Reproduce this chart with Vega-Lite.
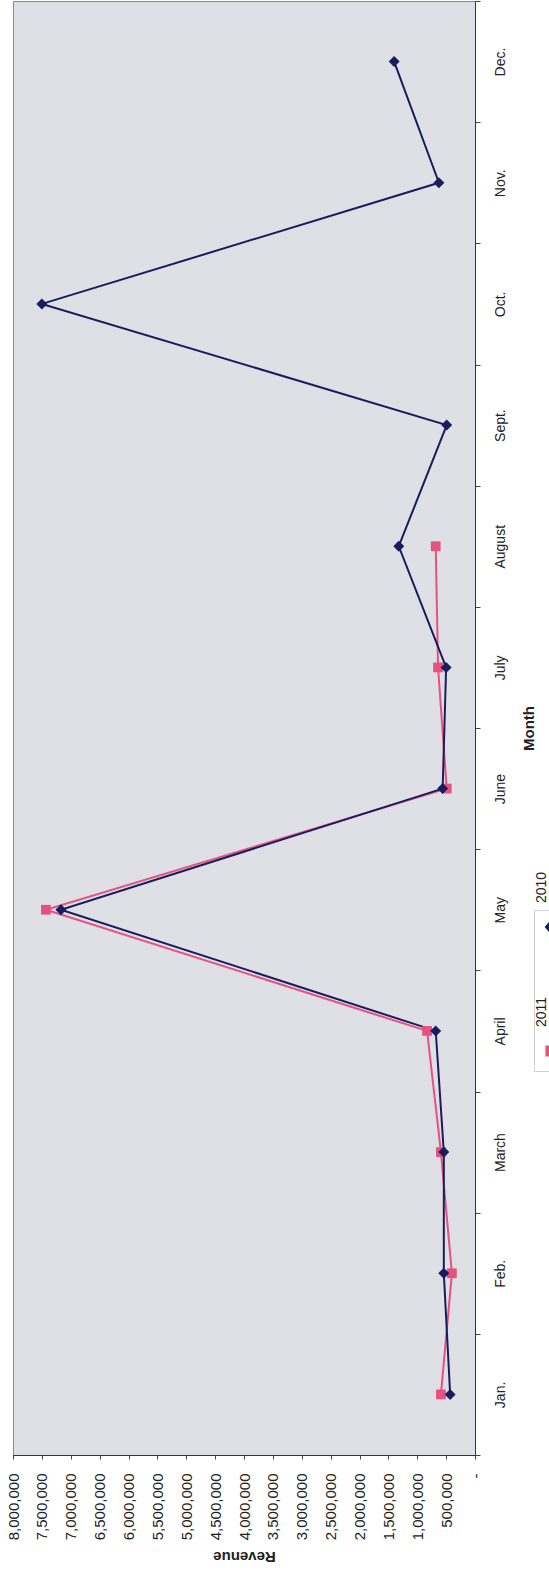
{
  "$schema": "https://vega.github.io/schema/vega-lite/v6.json",
  "width": 462,
  "height": 1454,
  "autosize": "none",
  "padding": {"left": 13, "top": 1, "right": 74, "bottom": 126},
  "background": "white",
  "config": {
    "font": "Liberation Sans",
    "view": {"fill": "#dfe0e5", "stroke": "#8a8a8a", "strokeWidth": 1}
  },
  "data": {
    "values": [
      {"year": "2011", "month": "Jan.", "mo": 1, "revenue": 590000},
      {"year": "2011", "month": "Feb.", "mo": 2, "revenue": 400000},
      {"year": "2011", "month": "March", "mo": 3, "revenue": 590000},
      {"year": "2011", "month": "April", "mo": 4, "revenue": 830000},
      {"year": "2011", "month": "May", "mo": 5, "revenue": 7430000},
      {"year": "2011", "month": "June", "mo": 6, "revenue": 490000},
      {"year": "2011", "month": "July", "mo": 7, "revenue": 640000},
      {"year": "2011", "month": "August", "mo": 8, "revenue": 680000},
      {"year": "2010", "month": "Jan.", "mo": 1, "revenue": 430000},
      {"year": "2010", "month": "Feb.", "mo": 2, "revenue": 540000},
      {"year": "2010", "month": "March", "mo": 3, "revenue": 540000},
      {"year": "2010", "month": "April", "mo": 4, "revenue": 680000},
      {"year": "2010", "month": "May", "mo": 5, "revenue": 7170000},
      {"year": "2010", "month": "June", "mo": 6, "revenue": 560000},
      {"year": "2010", "month": "July", "mo": 7, "revenue": 500000},
      {"year": "2010", "month": "August", "mo": 8, "revenue": 1320000},
      {"year": "2010", "month": "Sept.", "mo": 9, "revenue": 490000},
      {"year": "2010", "month": "Oct.", "mo": 10, "revenue": 7500000},
      {"year": "2010", "month": "Nov.", "mo": 11, "revenue": 625000},
      {"year": "2010", "month": "Dec.", "mo": 12, "revenue": 1400000}
    ]
  },
  "encoding": {
    "x": {
      "field": "revenue",
      "type": "quantitative",
      "scale": {"domain": [0, 8000000], "reverse": true, "nice": false, "zero": true},
      "axis": {
        "orient": "bottom",
        "values": [0, 500000, 1000000, 1500000, 2000000, 2500000, 3000000, 3500000, 4000000, 4500000, 5000000, 5500000, 6000000, 6500000, 7000000, 7500000, 8000000],
        "labelExpr": "datum.value === 0 ? '-' : format(datum.value, ',')",
        "labelAngle": 270,
        "labelAlign": "right",
        "labelBaseline": "middle",
        "labelFontSize": 15,
        "labelColor": "#222222",
        "labelPadding": 14,
        "labelOverlap": false,
        "labelFlush": false,
        "labelBound": false,
        "tickSize": 4,
        "tickColor": "#444444",
        "domainColor": "#333333",
        "grid": false,
        "title": "Revenue",
        "titleAngle": 180,
        "titleFontSize": 15,
        "titleFontWeight": "bold",
        "titleColor": "#222222",
        "titleBaseline": "bottom",
        "titlePadding": 9
      }
    },
    "y": {
      "field": "month",
      "type": "nominal",
      "scale": {
        "type": "band",
        "domain": ["Dec.", "Nov.", "Oct.", "Sept.", "August", "July", "June", "May", "April", "March", "Feb.", "Jan."],
        "paddingInner": 0,
        "paddingOuter": 0
      },
      "axis": {
        "orient": "right",
        "labelAngle": 270,
        "labelAlign": "center",
        "labelBaseline": "top",
        "labelFontSize": 14,
        "labelColor": "#222222",
        "labelPadding": 13,
        "tickSize": 5,
        "tickBand": "extent",
        "tickColor": "#444444",
        "domainColor": "#333333",
        "grid": false,
        "title": "Month",
        "titleAngle": 270,
        "titleFontSize": 15,
        "titleFontWeight": "bold",
        "titleColor": "#222222",
        "titleBaseline": "top",
        "titlePadding": 14
      }
    }
  },
  "layer": [
    {
      "mark": {"type": "line", "strokeWidth": 2},
      "encoding": {
        "color": {
          "field": "year",
          "type": "nominal",
          "scale": {"domain": ["2010", "2011"], "range": ["#191d5e", "#e6527f"]},
          "legend": {
            "orient": "none",
            "legendX": 521,
            "legendY": 909,
            "direction": "vertical",
            "title": null,
            "labelFontSize": 14,
            "labelColor": "#222222",
            "labelAlign": "left",
            "labelBaseline": "middle",
            "symbolSize": 576,
            "symbolStrokeWidth": 2,
            "labelOffset": -22,
            "rowPadding": 53,
            "padding": 4,
            "strokeColor": "#d0d0d0",
            "encoding": {
              "labels": {"angle": {"value": 270}, "dx": {"value": 24}},
              "symbols": {
                "shape": {"condition": {"test": "datum.value === '2010'", "value": "M0,-1V1M0,-0.48L0.42,0L0,0.48L-0.42,0Z"}, "value": "M0,-1V1M-0.38,-0.38H0.38V0.38H-0.38Z"},
                "fill": {"condition": {"test": "datum.value === '2010'", "value": "#191d5e"}, "value": "#e6527f"},
                "stroke": {"condition": {"test": "datum.value === '2010'", "value": "#191d5e"}, "value": "#e6527f"},
                "strokeWidth": {"value": 2},
                "opacity": {"value": 1}
              }
            }
          }
        },
        "order": {"field": "mo", "type": "quantitative"}
      }
    },
    {
      "transform": [{"filter": "datum.year === '2011'"}],
      "mark": {"type": "point", "filled": true, "opacity": 1, "size": 95, "shape": "square"},
      "encoding": {
        "color": {"field": "year", "type": "nominal", "legend": null}
      }
    },
    {
      "transform": [{"filter": "datum.year === '2010'"}],
      "mark": {"type": "point", "filled": true, "opacity": 1, "size": 120, "shape": "diamond"},
      "encoding": {
        "color": {"field": "year", "type": "nominal", "legend": null}
      }
    }
  ]
}
